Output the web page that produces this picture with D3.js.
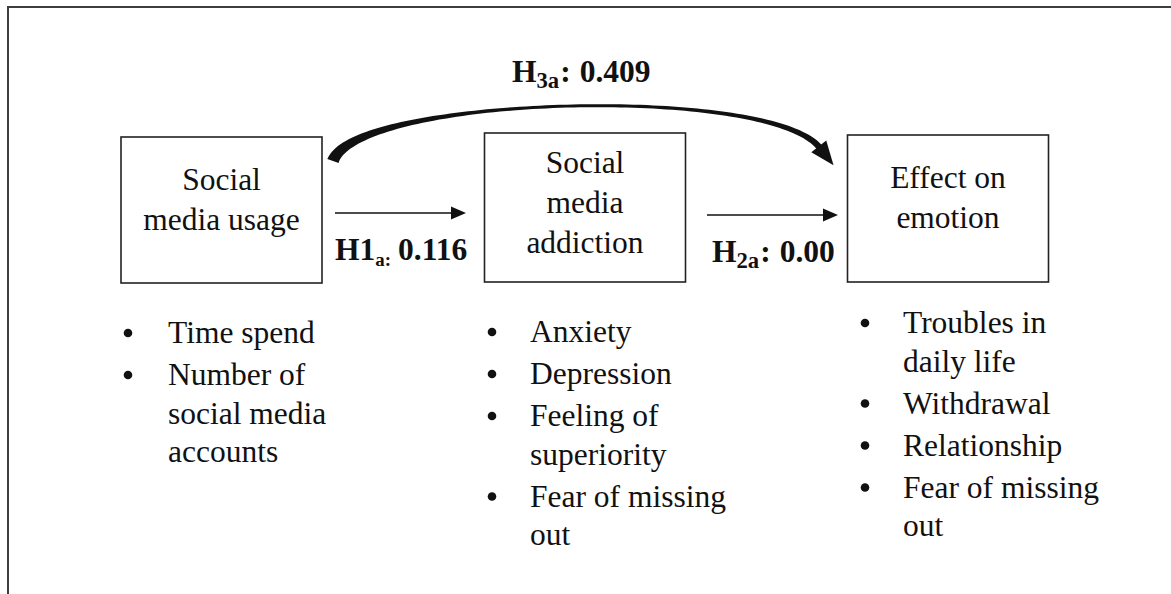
<!DOCTYPE html>
<html>
<head>
<meta charset="utf-8">
<script src="https://cdn.jsdelivr.net/npm/d3@7"></script>
<style>
  html, body { margin: 0; padding: 0; background: #fff; }
  svg { display: block; }
  text { font-family: "Liberation Serif", "Times New Roman", "DejaVu Serif", serif; fill: #111; }
</style>
</head>
<body>
<svg id="chart" width="1171" height="594"></svg>
<script>
// ---- content ----
const boxTitles = [
  ["Social", "media usage"],
  ["Social", "media", "addiction"],
  ["Effect on", "emotion"]
];
const indicators = [
  [["Time spend"], ["Number of", "social media", "accounts"]],
  [["Anxiety"], ["Depression"], ["Feeling of", "superiority"], ["Fear of missing", "out"]],
  [["Troubles in", "daily life"], ["Withdrawal"], ["Relationship"], ["Fear of missing", "out"]]
];
const hypMain = ["H1", "H", "H"];
const hypSub = ["a:", "2a", "3a"];
const hypCoefficients = ["0.116", "0.00", "0.409"];

// ---- layout ----
const W = 1171, H = 594;
const svg = d3.select("#chart");

const boxCx = d3.scaleOrdinal().domain([0, 1, 2]).range([221.5, 585, 948]);
const boxW = 201, boxTop = [137, 133, 135], boxBottom = [283, 282, 282];

// outer frame (top and left lines only)
svg.append("line").attr("x1", 8).attr("y1", 7).attr("x2", W).attr("y2", 7)
  .attr("stroke", "#3e3e3e").attr("stroke-width", 2);
svg.append("line").attr("x1", 8).attr("y1", 6).attr("x2", 8).attr("y2", H)
  .attr("stroke", "#3e3e3e").attr("stroke-width", 2);

const FS = 31.5;
const lineGap = 40;

// boxes
boxTitles.forEach((lines, i) => {
  const cx = boxCx(i);
  svg.append("rect")
    .attr("x", cx - boxW / 2).attr("y", boxTop[i])
    .attr("width", boxW).attr("height", boxBottom[i] - boxTop[i])
    .attr("fill", "none").attr("stroke", "#222").attr("stroke-width", 1.6);
  const firstBase = [190, 173, 188][i];
  lines.forEach((t, j) => {
    svg.append("text").attr("x", cx).attr("y", firstBase + j * lineGap)
      .attr("text-anchor", "middle").attr("font-size", FS).text(t);
  });
});

// bullet lists
const bulletX = [128, 492, 865];
const textX = [168, 530, 903];
const listStart = [343, 342, 333];
indicators.forEach((items, i) => {
  let y = listStart[i];
  items.forEach((lines) => {
    svg.append("circle").attr("cx", bulletX[i]).attr("cy", y - 10).attr("r", 4.3).attr("fill", "#111");
    lines.forEach((t, j) => {
      svg.append("text").attr("x", textX[i]).attr("y", y).attr("font-size", FS).text(t);
      y += (j < lines.length - 1) ? 38.5 : 0;
    });
    y += 42;
  });
});

// straight arrows
function straightArrow(x1, x2, y) {
  svg.append("line").attr("x1", x1).attr("y1", y).attr("x2", x2 - 12).attr("y2", y)
    .attr("stroke", "#111").attr("stroke-width", 1.7);
  svg.append("path")
    .attr("d", `M${x2 - 15},${y - 6.5} L${x2},${y} L${x2 - 15},${y + 6.5} Z`)
    .attr("fill", "#111");
}
straightArrow(335, 466, 213);
straightArrow(707, 838, 215);

// curved thick arrow (variable width)
const P = [[333, 161], [356, 96], [770, 84], [820, 148]];
function bez(t) {
  const u = 1 - t;
  const a = u * u * u, b = 3 * u * u * t, c = 3 * u * t * t, d = t * t * t;
  return [a * P[0][0] + b * P[1][0] + c * P[2][0] + d * P[3][0],
          a * P[0][1] + b * P[1][1] + c * P[2][1] + d * P[3][1]];
}
function bezD(t) {
  const u = 1 - t;
  const dx = 3 * u * u * (P[1][0] - P[0][0]) + 6 * u * t * (P[2][0] - P[1][0]) + 3 * t * t * (P[3][0] - P[2][0]);
  const dy = 3 * u * u * (P[1][1] - P[0][1]) + 6 * u * t * (P[2][1] - P[1][1]) + 3 * t * t * (P[3][1] - P[2][1]);
  const L = Math.hypot(dx, dy);
  return [dx / L, dy / L];
}
function widthAt(t) {
  if (t < 0.5) return 3 + 9 * Math.pow(1 - t / 0.5, 2);
  return 3 + 3.5 * Math.pow((t - 0.5) / 0.5, 2);
}
const N = 100;
const left = [], right = [];
for (let k = 0; k <= N; k++) {
  const t = k / N;
  const p = bez(t), d = bezD(t), w = widthAt(t) / 2;
  const n = [-d[1], d[0]];
  left.push([p[0] + n[0] * w, p[1] + n[1] * w]);
  right.push([p[0] - n[0] * w, p[1] - n[1] * w]);
}
const poly = left.concat(right.reverse());
svg.append("path").attr("d", d3.line()(poly) + "Z").attr("fill", "#111");
{
  const p = bez(1), d = bezD(1), n = [-d[1], d[0]];
  const len = 22, hw = 9.5;
  const tip = [p[0] + d[0] * len, p[1] + d[1] * len];
  const b1 = [p[0] + n[0] * hw - d[0] * 2, p[1] + n[1] * hw - d[1] * 2];
  const b2 = [p[0] - n[0] * hw - d[0] * 2, p[1] - n[1] * hw - d[1] * 2];
  svg.append("path").attr("d", d3.line()([b1, tip, b2]) + "Z").attr("fill", "#111");
}

// hypothesis labels
const hypPos = [[335, 260], [712, 262], [512, 82]];
const hypSubScale = [0.6, 0.72, 0.72];
hypMain.forEach((m, i) => {
  const t = svg.append("text").attr("x", hypPos[i][0]).attr("y", hypPos[i][1])
    .attr("font-size", FS).attr("font-weight", "bold");
  t.append("tspan").text(m);
  t.append("tspan").attr("font-size", FS * hypSubScale[i]).attr("dy", 6).text(hypSub[i]);
  if (i === 0) {
    t.append("tspan").attr("dy", -6).attr("dx", 7).text(hypCoefficients[i]);
  } else {
    t.append("tspan").attr("dy", -6).attr("dx", 1).text(":");
    t.append("tspan").attr("dx", 9).text(hypCoefficients[i]);
  }
});
</script>
</body>
</html>
